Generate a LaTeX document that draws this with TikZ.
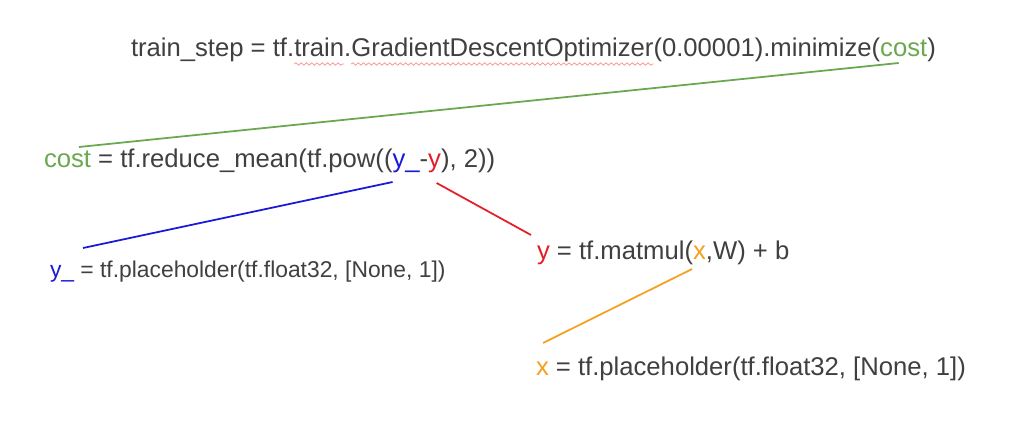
\documentclass[tikz,border=0pt]{standalone}
\usepackage{fontspec}
\setmainfont{Liberation Sans}
\usepackage{tikz}
\usetikzlibrary{positioning,calc,decorations.pathmorphing}
\definecolor{tfgray}{RGB}{64,64,64}
\definecolor{tfgreen}{RGB}{106,168,79}
\definecolor{tfblue}{RGB}{25,25,215}
\definecolor{tfred}{RGB}{228,30,40}
\definecolor{tforange}{RGB}{246,160,30}
\newcommand{\codefont}{\fontsize{14.6}{17}\selectfont}
\newcommand{\smallcode}{\fontsize{13}{15.5}\selectfont}

\begin{document}
\begin{tikzpicture}[
  x=0.02cm, y=-0.02cm,
  code/.style={inner sep=0pt, outer sep=0pt, text=tfgray, font=\codefont},
  part/.style={code, base right=0pt of #1},
  link/.style={line width=1pt},
  spell/.style={draw=red!45, line width=0.4pt, decorate, decoration={snake, amplitude=0.7pt, segment length=3pt}},
]
\fill[white] (0,0) rectangle (1023,422);
\node[code, anchor=base west] (stepA) at (131,57) {train\_step =\ tf.};
\node[part=stepA] (steptrain) {train};
\node[part=steptrain] (stepdot) {.};
\node[part=stepdot] (stepgdo) {GradientDescentOptimizer};
\node[part=stepgdo] (stepB) {(0.00001).minimize(};
\node[part=stepB, text=tfgreen] (stepcost) {cost};
\node[part=stepcost] (stepC) {)};
\node[code, anchor=base west, text=tfgreen] (costword) at (44,168) {cost};
\node[part=costword] (costA) {\ = tf.reduce\_mean(tf.pow((};
\node[part=costA, text=tfblue] (powyu) {y\_};
\node[part=powyu] (costdash) {-};
\node[part=costdash, text=tfred] (powy) {y};
\node[part=powy] (costB) {), 2))};
\node[code, anchor=base west, font=\smallcode, text=tfblue] (yuword) at (50,277) {y\_};
\node[part=yuword, font=\smallcode] (yuA) {\ = tf.placeholder(tf.float32, [None, 1])};
\node[code, anchor=base west, text=tfred] (ytword) at (537,259) {y};
\node[part=ytword] (ytA) {\ = tf.matmul(};
\node[part=ytA, text=tforange] (mmx) {x};
\node[part=mmx] (ytB) {,W) + b};
\node[code, anchor=base west, text=tforange] (xword) at (536,375) {x};
\node[part=xword] (xA) {\ = tf.placeholder(tf.float32, [None, 1])};
\draw[link, tfgreen] ($(stepcost.base)+(-5,6)$) -- ($(costword.base west)+(35,-21)$);
\draw[link, tfblue] ($(powyu.base west)+(0,14)$) -- ($(yuword.base west)+(33,-29)$);
\draw[link, tfred] ($(powy.base)+(2,15)$) -- ($(ytword.base west)+(-6,-24)$);
\draw[link, tforange] ($(mmx.base west)+(-1,10)$) -- ($(xword.base west)+(7,-32)$);
\draw[spell] ($(steptrain.base west)+(0,7)$) -- ($(steptrain.base east)+(0,7)$);
\draw[spell] ($(stepgdo.base west)+(0,7)$) -- ($(stepgdo.base east)+(0,7)$);
\end{tikzpicture}
\end{document}
